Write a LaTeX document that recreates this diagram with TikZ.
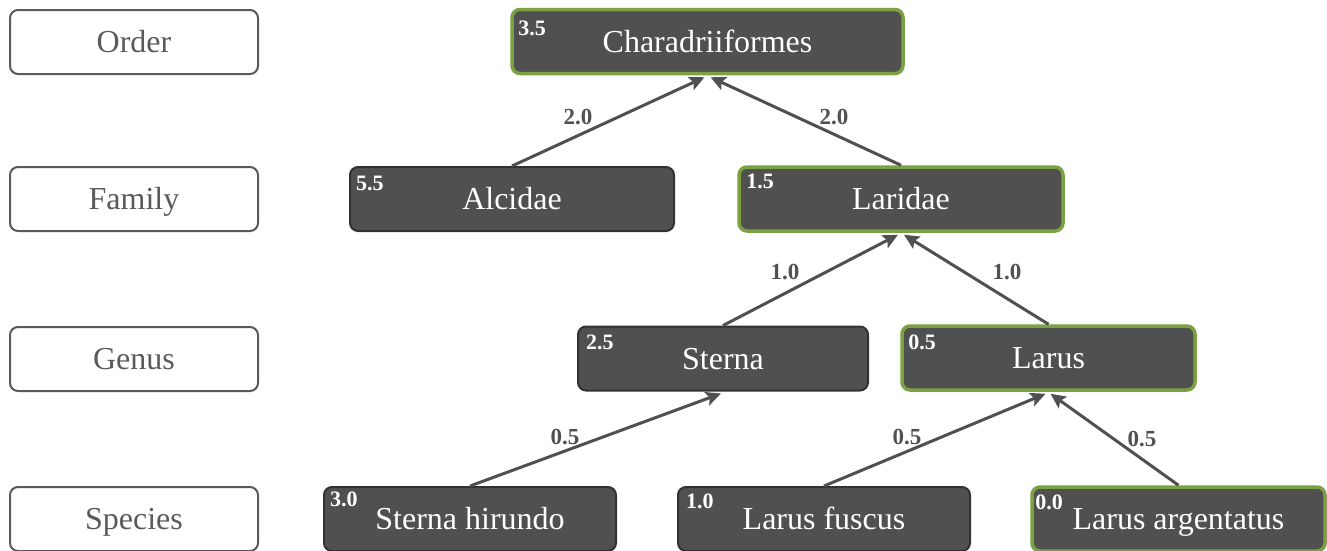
\documentclass[tikz,border=0pt]{standalone}
\usepackage{fontspec}
\setmainfont{Liberation Serif}
\usetikzlibrary{arrows.meta}
\definecolor{boxfill}{RGB}{80,80,80}
\definecolor{boxedge}{RGB}{50,50,50}
\definecolor{hlgreen}{RGB}{122,162,66}
\definecolor{lblgray}{RGB}{90,90,90}
\definecolor{linegray}{RGB}{80,80,80}
\tikzset{
  levelbox/.style={draw=lblgray, line width=2pt, fill=white, rounded corners=8pt,
    minimum width=248pt, minimum height=64pt, text=lblgray,
    font=\fontsize{32}{36}\selectfont, text height=21pt, text depth=0pt, inner sep=0pt},
  taxon/.style={draw=boxedge, line width=2pt, fill=boxfill, rounded corners=8pt,
    text=white, minimum height=64pt,
    font=\fontsize{32}{36}\selectfont, text height=21pt, text depth=0pt, inner sep=0pt},
  best/.style={draw=hlgreen, line width=3.5pt},
  val/.style={text=white, font=\fontsize{22}{24}\bfseries\selectfont, inner sep=0pt, anchor=north west},
  edgelbl/.style={text=linegray, font=\fontsize{23}{26}\bfseries\selectfont, inner sep=0pt},
  link/.style={draw=linegray, line width=3pt, -{Stealth[length=15pt,width=14pt,inset=3pt]}},
}
\begin{document}
\begin{tikzpicture}[x=1pt,y=-1pt]
\useasboundingbox (0,0) rectangle (1327,550);
% level labels
\node[levelbox] (ord) at (134,42) {Order};
\node[levelbox] (fam) at (134,199) {Family};
\node[levelbox] (gen) at (134,359) {Genus};
\node[levelbox] (spe) at (134,519) {Species};
% taxa
\node[taxon,best,minimum width=391pt] (char) at (707.5,41.5) {Charadriiformes};
\node[taxon,minimum width=324pt] (alc) at (512,199) {Alcidae};
\node[taxon,best,minimum width=324pt] (lar) at (901,199) {Laridae};
\node[taxon,minimum width=290pt] (ster) at (723,358.5) {Sterna};
\node[taxon,best,minimum width=293pt] (larus) at (1048.5,358) {Larus};
\node[taxon,minimum width=292pt] (sh) at (470,519) {Sterna hirundo};
\node[taxon,minimum width=292pt] (lf) at (824,519) {Larus fuscus};
\node[taxon,best,minimum width=293pt] (la) at (1178.5,519) {Larus argentatus};
% values
\node[val] (charv) at ([xshift=8pt,yshift=-13pt]char.north west) {3.5};
\node[val] (alcv) at ([xshift=7pt,yshift=-10pt]alc.north west) {5.5};
\node[val] (larv) at ([xshift=9pt,yshift=-9pt]lar.north west) {1.5};
\node[val] (sterv) at ([xshift=9pt,yshift=-9pt]ster.north west) {2.5};
\node[val] (larusv) at ([xshift=8pt,yshift=-10pt]larus.north west) {0.5};
\node[val] (shv) at ([xshift=7pt,yshift=-6pt]sh.north west) {3.0};
\node[val] (lfv) at ([xshift=9pt,yshift=-8pt]lf.north west) {1.0};
\node[val] (lav) at ([xshift=5pt,yshift=-9pt]la.north west) {0.0};
% connectors
\draw[link] (alc.north) -- ([xshift=-3pt,yshift=-2pt]char.south);
\draw[link] (lar.north) -- ([xshift=3pt,yshift=-2pt]char.south);
\draw[link] (ster.north) -- ([xshift=-3pt,yshift=-2pt]lar.south);
\draw[link] (larus.north) -- ([xshift=3pt,yshift=-2pt]lar.south);
\draw[link] (sh.north) -- ([xshift=-2pt,yshift=-2pt]ster.south);
\draw[link] (lf.north) -- ([xshift=-3pt,yshift=-2pt]larus.south);
\draw[link] (la.north) -- ([xshift=2pt,yshift=-2pt]larus.south);
% edge labels
\node[edgelbl] (e1) at (578,117) {2.0};
\node[edgelbl] (e2) at (834,117) {2.0};
\node[edgelbl] (e3) at (785,272) {1.0};
\node[edgelbl] (e4) at (1007,272) {1.0};
\node[edgelbl] (e5) at (565,437) {0.5};
\node[edgelbl] (e6) at (907,437) {0.5};
\node[edgelbl] (e7) at (1142,439) {0.5};
\end{tikzpicture}
\end{document}
